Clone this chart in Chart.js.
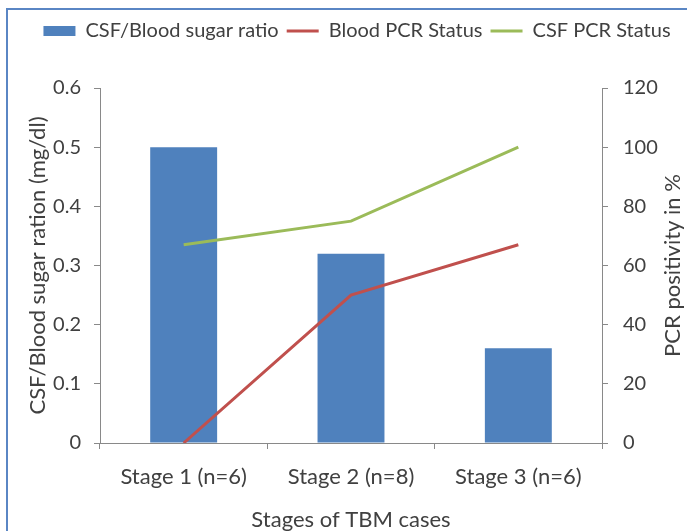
<!DOCTYPE html>
<html>
<head>
<meta charset="utf-8">
<script src="https://cdn.jsdelivr.net/npm/chart.js@4.4.1/dist/chart.umd.min.js"></script>
<style>
  html, body { margin: 0; padding: 0; background: #fff; overflow: hidden; }
  #frame { position: absolute; left: 6px; top: 8px; width: 720px; height: 560px;
           border-left: 2px solid #5a86c4; border-top: 2px solid #5a86c4; }
  #wrap { position: absolute; left: 0; top: 0; width: 687px; height: 531px; }
</style>
</head>
<body>
<div id="frame"></div>
<div id="wrap"><canvas id="myChart" width="687" height="531"></canvas></div>
<script>
// chart data
const stages = ['Stage 1 (n=6)', 'Stage 2 (n=8)', 'Stage 3 (n=6)'];
const sugarRatio = [0.5, 0.32, 0.16];
const bloodPcr = [0, 50, 67];
const csfPcr = [67, 75, 100];

const axisGrey = '#898989';
const textCol = '#404040';
const fontFam = 'Lato, "Open Sans", sans-serif';
const rightTitle = 'PCR positivity in %';

const ctx = document.getElementById('myChart');

// extra room under the legend
const legendGap = {
    id: 'legendGap',
    beforeInit(chart) {
        const fit = chart.legend.fit;
        chart.legend.fit = function () {
            fit.bind(chart.legend)();
            this.height += 37;
        };
    }
};

// right axis title reads bottom-to-top like the left one
const rightTitlePlugin = {
    id: 'rightTitle',
    afterDraw(chart) {
        const s = chart.scales.y1;
        const c = chart.ctx;
        c.save();
        c.translate(s.right - 14, (s.top + s.bottom) / 2);
        c.rotate(-Math.PI / 2);
        c.fillStyle = textCol;
        c.font = '22px ' + fontFam;
        c.textAlign = 'center';
        c.textBaseline = 'middle';
        c.fillText(rightTitle, 0, 0);
        c.restore();
    }
};

new Chart(ctx, {
    data: {
        labels: stages,
        datasets: [{
            type: 'bar',
            label: 'CSF/Blood sugar ratio',
            data: sugarRatio,
            backgroundColor: '#4f81bd',
            yAxisID: 'y',
            barPercentage: 0.4,
            categoryPercentage: 1,
            pointStyle: 'rect',
            order: 2
        }, {
            type: 'line',
            label: 'Blood PCR Status',
            data: bloodPcr,
            borderColor: '#c0504d',
            backgroundColor: '#c0504d',
            borderWidth: 3,
            pointRadius: 0,
            tension: 0,
            pointStyle: 'line',
            yAxisID: 'y1',
            order: 1
        }, {
            type: 'line',
            label: 'CSF PCR Status',
            data: csfPcr,
            borderColor: '#9bbb59',
            backgroundColor: '#9bbb59',
            borderWidth: 3,
            pointRadius: 0,
            tension: 0,
            pointStyle: 'line',
            yAxisID: 'y1',
            order: 0
        }]
    },
    plugins: [legendGap, rightTitlePlugin],
    options: {
        responsive: false,
        animation: false,
        layout: { padding: { left: 27, right: 0, top: 13, bottom: 0 } },
        plugins: {
            tooltip: { enabled: false },
            legend: {
                display: true,
                position: 'top',
                labels: {
                    usePointStyle: true,
                    pointStyleWidth: 32,
                    boxHeight: 10,
                    padding: 8,
                    color: textCol,
                    font: { family: fontFam, size: 20 },
                    sort: (a, b) => a.datasetIndex - b.datasetIndex
                }
            }
        },
        scales: {
            x: {
                afterFit: function (scale) { scale.height = 88; },
                grid: { display: true, drawOnChartArea: false, offset: true, color: axisGrey, tickLength: 6 },
                border: { color: axisGrey },
                ticks: { color: textCol, font: { family: fontFam, size: 22 }, padding: 15 },
                title: { display: true, text: 'Stages of TBM cases', color: textCol,
                         font: { family: fontFam, size: 22, lineHeight: 1 }, padding: { top: 0, bottom: 0 } }
            },
            y: {
                position: 'left',
                afterFit: function (scale) { scale.width = 73; },
                min: 0, max: 0.6,
                ticks: { stepSize: 0.1, color: textCol, font: { family: fontFam, size: 20 }, padding: 13 },
                grid: { display: true, drawOnChartArea: false, color: axisGrey, tickLength: 6 },
                border: { color: axisGrey },
                title: { display: true, text: 'CSF/Blood sugar ration (mg/dl)', color: textCol,
                         font: { family: fontFam, size: 22, lineHeight: 1 }, padding: { top: 0, bottom: 0 } }
            },
            y1: {
                position: 'right',
                afterFit: function (scale) { scale.width = 85; },
                min: 0, max: 120,
                ticks: { stepSize: 20, color: textCol, font: { family: fontFam, size: 20 }, padding: 15 },
                grid: { display: true, drawOnChartArea: false, color: axisGrey, tickLength: 6 },
                border: { color: axisGrey }
            }
        }
    }
});
</script>
</body>
</html>
